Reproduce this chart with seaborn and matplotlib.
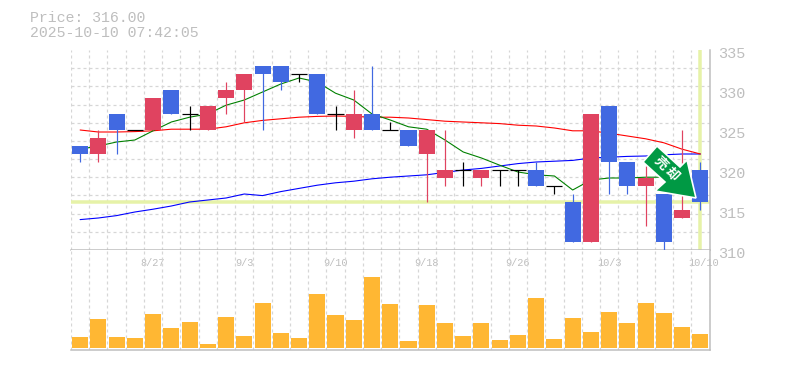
import matplotlib
matplotlib.use("Agg")
import matplotlib.pyplot as plt
from matplotlib.patches import Polygon
from matplotlib.transforms import ScaledTranslation, IdentityTransform
import numpy as np
import pandas as pd
import seaborn as sns

title_price = "Price: 316.00"
title_time = "2025-10-10 07:42:05"
opens = [323, 322, 327, 325, 325, 330, 327, 325, 329, 330, 333, 333, 332, 332, 327, 325, 327, 325, 325, 322,
         319, 320, 319, 320, 320, 320, 318, 316, 311, 328, 321, 318, 317, 314, 320]
closes = [322, 324, 325, 325, 329, 327, 327, 328, 330, 332, 332, 331, 332, 327, 327, 327, 325, 325, 323, 325,
          320, 320, 320, 320, 320, 318, 318, 311, 327, 321, 318, 319, 311, 315, 316]
highs = [323, 325, 327, 325, 329, 330, 328, 328, 331, 332, 333, 333, 332, 332, 328, 330, 333, 326, 325, 325,
         325, 321, 320, 320, 320, 321, 318, 317, 327, 328, 321, 320.5, 317, 325, 321]
lows = [321, 321, 322, 325, 325, 327, 325, 325, 327, 326, 325, 330, 331, 327, 325, 324, 325, 325, 323, 316,
        318, 318, 318, 318, 318, 318, 317, 311, 311, 317, 317, 313, 310, 314, 315]
volumes = [11, 29, 11, 10, 34, 20, 26, 4, 31, 12, 45, 15, 10, 54, 33, 28, 71, 44, 7, 43, 25, 12, 25, 8, 13, 50,
           9, 30, 16, 36, 25, 45, 35, 21, 14]
ma_short = [322.6, 323.0, 323.5, 323.75, 324.9, 326.0, 326.6, 327.0, 328.1, 328.75, 329.75, 330.75, 331.5, 331.0,
            329.6, 328.75, 327.0, 326.25, 325.4, 325.1, 323.75, 322.25, 321.5, 320.6, 319.75, 319.4, 319.25,
            317.5, 318.75, 319.0, 319.0, 319.1, 319.1]
ma_mid = [325.0, 324.75, 324.75, 324.8, 324.9, 325.1, 325.1, 325.1, 325.4, 325.9, 326.2, 326.4, 326.6, 326.7,
          326.75, 326.7, 326.6, 326.6, 326.5, 326.3, 326.1, 326.0, 325.9, 325.8, 325.6, 325.5, 325.25, 324.9,
          324.9, 324.6, 324.25, 323.9, 323.4, 322.6, 322.0]
ma_long = [313.8, 314.0, 314.3, 314.75, 315.1, 315.5, 316.0, 316.25, 316.5, 317.0, 316.8, 317.3, 317.7, 318.1,
           318.4, 318.6, 318.9, 319.1, 319.25, 319.4, 319.7, 320.0, 320.2, 320.5, 320.8, 321.0, 321.1, 321.2,
           321.5, 321.6, 321.7, 321.75, 321.9, 322.0, 322.0]
date_positions = [4, 9, 14, 19, 24, 29, 34]
date_labels = ["8/27", "9/3", "9/10", "9/18", "9/26", "10/3", "10/10"]
price_ticks = [310, 315, 320, 325, 330, 335]
current_price = 316
current_index = 34

UP, DOWN, DOJI = "#E04360", "#4169E1", "#000000"
GRID, AXIS, TEXT = "#D6D6D6", "#BDBDBD", "#BEBEBE"
HILITE, VOL, ARROW = "#E6F2A8", "#FFB733", "#009944"
MONO = "Liberation Mono"
PX = 0.72

sns.set_style("white")
W, H = 785, 370
fig = plt.figure(figsize=(W / 100, H / 100), dpi=100, facecolor="white")
L, R, T, MID, B = 71, 709.5, 50, 250, 349.5
ax = fig.add_axes([L / W, 1 - MID / H, (R - L) / W, (MID - T) / H])
axv = fig.add_axes([L / W, 1 - B / H, (R - L) / W, (B - MID) / H])

idx = np.arange(len(opens))
x_edges = np.arange(-0.5, len(opens), 1.0)
grid_style = dict(color=GRID, lw=1.2 * PX, ls=(0, (2.5, 2.5)))
for a in (ax, axv):
    a.set_xlim(-0.5, 34.5)
    a.set_xticks(x_edges, minor=True)
    a.grid(True, which="minor", axis="x", **grid_style)
    a.grid(False, which="major")
    a.set_axisbelow(True)
    a.tick_params(which="both", length=0)
    for s in a.spines.values():
        s.set_visible(False)
    a.spines["right"].set_visible(True)
    a.spines["bottom"].set_visible(True)
    a.spines["right"].set_color(AXIS)
    a.spines["bottom"].set_color(AXIS)
    a.spines["right"].set_linewidth(1.5 * PX)
    a.spines["bottom"].set_linewidth(1.5 * PX)

# price panel
ax.set_ylim(310, 335)
ax.set_yticks(price_ticks)
ax.set_yticks(np.linspace(310, 335, 12), minor=True)
ax.grid(True, which="minor", axis="y", **grid_style)
ax.set_xticks([])
ax.set_xticks(x_edges, minor=True)
ax.yaxis.tick_right()
ax.tick_params(axis="y", which="major", pad=6.5, labelsize=11, labelcolor=TEXT)
off = ScaledTranslation(0, -3 / 100, fig.dpi_scale_trans)
for lab in ax.get_yticklabels():
    lab.set_fontfamily(MONO)
    lab.set_transform(lab.get_transform() + off)

ax.axhline(current_price, color=HILITE, lw=3.5 * PX, zorder=1)
ax.axvline(current_index, color=HILITE, lw=3.5 * PX, zorder=1)

for vals, col in [(ma_long, "#0000FF"), (ma_mid, "#FF0000"), (ma_short, "#008000")]:
    d = pd.DataFrame({"x": idx[:len(vals)], "y": vals})
    sns.lineplot(data=d, x="x", y="y", ax=ax, color=col, lw=1.1 * PX, zorder=2, legend=False, errorbar=None)
ax.set_xlabel("")
ax.set_ylabel("")

colors = [UP if c > o else DOWN if c < o else DOJI for o, c in zip(opens, closes)]
ax.vlines(idx, lows, highs, colors=colors, lw=1.2 * PX, zorder=3)
for i, (o, c, col) in enumerate(zip(opens, closes, colors)):
    if o == c:
        ax.hlines(o, i - 0.44, i + 0.44, color=col, lw=1.2 * PX, zorder=4)
    else:
        ax.bar(i, abs(c - o), bottom=min(o, c), width=0.88, color=col, lw=0, zorder=4)

# signal arrow (drawn in pixel space of the figure)
arrow_px = [(696, 198), (687, 160), (680, 167), (657, 146), (643, 162), (665, 182), (655, 191)]
arrow_xy = [(x, H - y) for x, y in arrow_px]
fig.add_artist(Polygon(arrow_xy, closed=True, facecolor=ARROW, edgecolor="white", lw=1.2,
                       joinstyle="miter", transform=IdentityTransform(), zorder=10))
for ch, (px, py) in zip("売却", [(661, 163), (672, 174)]):
    fig.text(px / W, 1 - py / H, ch, color="white", fontsize=9.5, rotation=-45, ha="center", va="center",
             family=["Noto Sans CJK JP", "DejaVu Sans"], fontweight="bold", zorder=11)

# volume panel
axv.set_ylim(-1.5, 98)
dv = pd.DataFrame({"x": idx, "v": volumes})
sns.barplot(data=dv, x="x", y="v", ax=axv, native_scale=True, color=VOL, saturation=1, width=0.88, lw=0, zorder=3,
            errorbar=None)
axv.set_xlim(-0.5, 34.5)
axv.set_xlabel("")
axv.set_ylabel("")
axv.set_yticks([])
axv.set_xticks(date_positions)
axv.set_xticklabels(date_labels, family=MONO, fontsize=7.4, color=TEXT)
axv.set_xticks(x_edges, minor=True)
axv.tick_params(axis="x", which="major", top=False, bottom=False, labeltop=True, labelbottom=False, pad=-12.7)
shift = ScaledTranslation(3 / 100, 0, fig.dpi_scale_trans)
last = axv.get_xticklabels()[-1]
last.set_transform(last.get_transform() + shift)

# header
fig.text(30 / W, 1 - 18 / H, title_price, family=MONO, fontsize=10.75, color=TEXT, va="center", ha="left")
fig.text(30 / W, 1 - 33 / H, title_time, family=MONO, fontsize=10.75, color=TEXT, va="center", ha="left")

fig.savefig("out.png", dpi=100, facecolor="white")
